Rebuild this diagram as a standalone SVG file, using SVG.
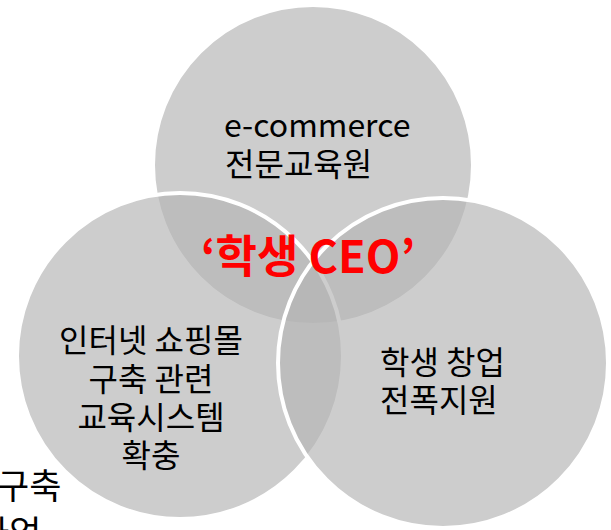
<svg xmlns="http://www.w3.org/2000/svg" width="611" height="530" viewBox="0 0 611 530">
<style>
.c{fill:#b5b5b5;fill-opacity:0.67;stroke:#fff;stroke-width:4}
.t{font-family:"Noto Sans CJK KR","Noto Sans",sans-serif;font-size:32px;fill:#000}
.ceo{font-family:"Noto Sans CJK KR","Noto Sans",sans-serif;font-size:45px;font-weight:bold;fill:#ff0000}
</style>
<rect width="611" height="530" fill="#fff"/>
<g id="outside-text">
<text class="t" style="font-size:35px" x="-3" y="499">구축</text>
<text class="t" style="font-size:35px" x="-23" y="546">사업</text>
</g>
<g id="node-ecommerce">
<circle class="c" cx="313" cy="165" r="160"/>
<text class="t" x="224" y="137">e-commerce</text>
<text class="t" x="225" y="176">전문교육원</text>
</g>
<g id="node-shoppingmall">
<circle class="c" cx="180" cy="356" r="163"/>
<text class="t" text-anchor="middle" x="151" y="352">인터넷 쇼핑몰</text>
<text class="t" text-anchor="middle" x="151" y="391">구축 관련</text>
<text class="t" text-anchor="middle" x="151" y="429">교육시스템</text>
<text class="t" text-anchor="middle" x="151" y="467">확충</text>
</g>
<g id="node-startup">
<circle class="c" cx="443" cy="363" r="165"/>
<text class="t" x="380" y="374">학생 창업</text>
<text class="t" x="380" y="412">전폭지원</text>
</g>
<g id="node-center">
<text class="ceo" text-anchor="middle" x="308" y="273">‘학생 CEO’</text>
</g>
</svg>
